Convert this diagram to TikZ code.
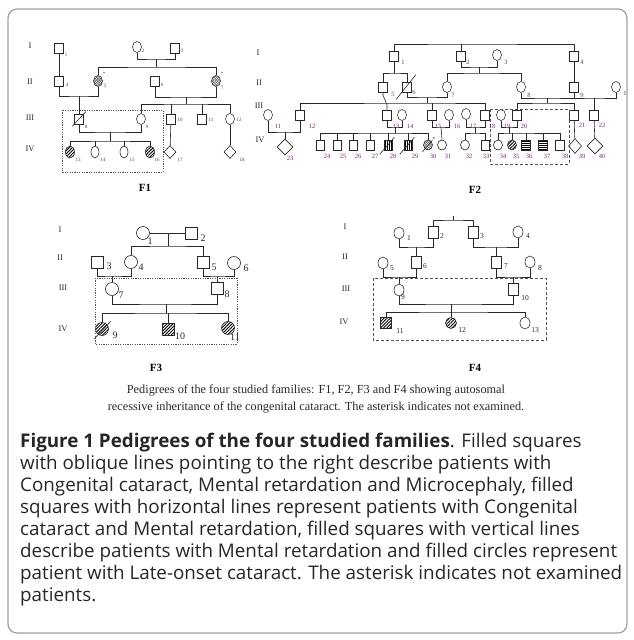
\documentclass[tikz,border=0pt]{standalone}
\usepackage{fontspec}
\setmainfont{Liberation Serif}
\newfontfamily\capfont{Open Sans}
\usetikzlibrary{shapes.geometric,patterns.meta,calc}
\definecolor{ink}{RGB}{40,40,40}
\definecolor{labp}{RGB}{110,45,110}
\definecolor{framec}{RGB}{160,160,160}
\begin{document}
\begin{tikzpicture}[x=1pt,y=-1pt,
  ln/.style={draw=ink,line width=0.6pt},
  sqs/.style 2 args={draw=ink,line width=0.6pt,rectangle,inner sep=0pt,minimum width=#1,minimum height=#2},
  ovs/.style 2 args={draw=ink,line width=0.6pt,ellipse,inner sep=0pt,minimum width=#1,minimum height=#2},
  dms/.style 2 args={draw=ink,line width=0.6pt,diamond,inner sep=0pt,minimum width=#1,minimum height=#2},
  dg/.style={pattern={Lines[angle=45,distance=2.2pt,line width=0.9pt]},pattern color=black},
  hz/.style={pattern={Lines[angle=0,distance=2pt,line width=1pt]},pattern color=black},
  vt/.style={pattern={Lines[angle=90,distance=2.2pt,line width=0.6pt]},pattern color=black},
  xh/.style={pattern={Hatch[angle=45,distance=1.8pt,line width=0.5pt]},pattern color=black!60},
  la/.style={inner sep=0pt,text=labp,font=\fontsize{5}{5}\selectfont},
  lb/.style={inner sep=0pt,text=labp,font=\fontsize{6.5}{6.5}\selectfont},
  lc/.style={inner sep=0pt,text=ink,font=\fontsize{10}{10}\selectfont},
  ld/.style={inner sep=0pt,text=ink,font=\fontsize{7.5}{7.5}\selectfont},
  gen/.style={inner sep=0pt,text=ink,font=\fontsize{8.5}{8.5}\selectfont},
  fl/.style={inner sep=0pt,text=black,font=\bfseries\fontsize{11}{11}\selectfont},
  scap/.style={inner sep=0pt,text=ink,font=\fontsize{12.3}{12.3}\selectfont},
  captx/.style={inner sep=0pt,anchor=base west,text=black!85,font=\capfont\fontsize{18.8}{18.8}\selectfont},
  boxdot/.style={draw=ink!80,line width=0.6pt,dash pattern=on 1.2pt off 1.2pt},
  boxdash/.style={draw=ink!80,line width=0.7pt,dash pattern=on 3pt off 2pt},
  dead/.style={draw=ink,line width=0.6pt}]
\useasboundingbox (0,0) rectangle (633,640);
\draw[framec,line width=1.2pt,rounded corners=9pt] (8,9) rectangle (627,633);

% ================= F1 =================
\node[gen] (f1g1) at (30,46) {I};
\node[gen] (f1g2) at (30,82) {II};
\node[gen] (f1g3) at (30,118) {III};
\node[gen] (f1g4) at (30,149) {IV};
\node[sqs={9}{10}] (f1n1) at (59,48) {};
\node[ovs={9}{11}] (f1n2) at (137,47) {};
\node[sqs={9}{10}] (f1n3) at (175,48) {};
\node[sqs={9}{10}] (f1n4) at (59,81) {};
\node[ovs={9}{11},xh] (f1n5) at (98,81) {};
\node[sqs={9}{10}] (f1n6) at (155,81) {};
\node[ovs={9}{11},xh] (f1n7) at (216,81) {};
\node[sqs={9}{10}] (f1n8) at (79,119) {};
\node[ovs={9}{11}] (f1n9) at (141,119) {};
\node[sqs={9}{10}] (f1n10) at (171,119) {};
\node[sqs={9}{10}] (f1n11) at (202,119) {};
\node[ovs={9}{11}] (f1n12) at (230,119) {};
\node[ovs={9}{12},dg] (f1n13) at (70,152) {};
\node[ovs={8}{12}] (f1n14) at (95,152) {};
\node[ovs={8}{12}] (f1n15) at (124,152) {};
\node[ovs={9}{12},dg] (f1n16) at (150,152) {};
\node[dms={12}{13}] (f1n17) at (170,152) {};
\node[dms={12}{13}] (f1n18) at (230,152) {};
\draw[dead] ($(f1n8.south west)+(-2,2)$) -- ($(f1n8.north east)+(2,-2)$);
\draw[ln] (f1n1) -- (f1n4);
\coordinate (f1c23) at (156,59);
\coordinate (f1s23) at (156,67);
\draw[ln] (f1n2.south) |- (f1c23) -| (f1n3.south);
\draw[ln] (f1c23) -- (f1s23);
\draw[ln] (f1n5.north) |- (f1s23) -| (f1n7.north);
\coordinate (f1c45) at (79,96);
\draw[ln] (f1n4.south) |- (f1c45) -| (f1n5.south);
\draw[ln] (f1c45) -- (f1n8.north);
\coordinate (f1c67) at (186,97);
\coordinate (f1s67) at (186,104);
\draw[ln] (f1n6.south) |- (f1c67) -| (f1n7.south);
\draw[ln] (f1c67) -- (f1s67);
\draw[ln] (f1n9.north) |- (f1s67) -| (f1n12.north);
\draw[ln] (f1n10.north) -- (f1n10.north |- f1s67);
\draw[ln] (f1n11.north) -- (f1n11.north |- f1s67);
\coordinate (f1c89) at (110,132);
\coordinate (f1s89) at (110,141);
\draw[ln] (f1n8.south) |- (f1c89) -| (f1n9.south);
\draw[ln] (f1c89) -- (f1s89);
\draw[ln] (f1n13.north) |- (f1s89) -| (f1n16.north);
\draw[ln] (f1n14.north) -- (f1n14.north |- f1s89);
\draw[ln] (f1n15.north) -- (f1n15.north |- f1s89);
\draw[ln] (f1n10) -- (f1n17);
\draw[ln] (f1n12) -- (f1n18);
\draw[boxdot] (62,110) rectangle (163,172);
\node[la] (f1l1) at (66,55) {1};
\node[la] (f1l2) at (143,51) {2};
\node[la] (f1l3) at (182,51) {3};
\node[la] (f1l4) at (67,85) {4};
\node[la] (f1l5) at (105,86) {5};
\node[la] (f1l6) at (162,85) {6};
\node[la] (f1l7) at (222,88) {7};
\node[la] (f1a5) at (104,74) {*};
\node[la] (f1a7) at (222,74) {*};
\node[la] (f1l8) at (86,127) {8};
\node[la] (f1l9) at (147,127) {9};
\node[la] (f1l10) at (180,120) {10};
\node[la] (f1l11) at (211,120) {11};
\node[la] (f1l12) at (239,120) {12};
\node[la] (f1l13) at (78,160) {13};
\node[la] (f1l14) at (103,160) {14};
\node[la] (f1l15) at (132,160) {15};
\node[la] (f1l16) at (157,160) {16};
\node[la] (f1l17) at (180,160) {17};
\node[la] (f1l18) at (242,160) {18};
\node[fl] (f1t) at (145,188) {F1};

% ================= F2 =================
\node[gen] (f2g1) at (258,53) {I};
\node[gen] (f2g2) at (259,83) {II};
\node[gen] (f2g3) at (259,106) {III};
\node[gen] (f2g4) at (260,140) {IV};
\node[sqs={9}{10}] (a1) at (394,56) {};
\node[sqs={9}{10}] (a2) at (461,56) {};
\node[ovs={9}{11}] (a3) at (497,55) {};
\node[sqs={9}{10}] (a4) at (574,56) {};
\node[sqs={9}{10}] (a5) at (383,87) {};
\node[sqs={9}{10}] (a6) at (407,87) {};
\node[ovs={9}{11}] (a7) at (447,87) {};
\node[ovs={9}{11}] (a8) at (521,87) {};
\node[sqs={9}{10}] (a9) at (574,87) {};
\node[ovs={9}{11}] (a10) at (616,87) {};
\node[ovs={9}{11}] (a11) at (268,115) {};
\node[sqs={9}{10}] (a12) at (300,115) {};
\node[sqs={9}{10}] (a13) at (387,115) {};
\node[ovs={9}{11}] (a14) at (402,115) {};
\node[sqs={9}{10}] (a15) at (432,115) {};
\node[ovs={9}{11}] (a16) at (449,115) {};
\node[ovs={9}{11}] (a17) at (466,114) {};
\node[sqs={9}{10}] (a18) at (485,115) {};
\node[ovs={9}{11}] (a19) at (501,115) {};
\node[sqs={9}{10}] (a20) at (517,115) {};
\node[sqs={9}{10}] (a21) at (574,115) {};
\node[sqs={9}{10}] (a22) at (594,115) {};
\node[dms={16}{16}] (a23) at (285,147) {};
\node[sqs={8}{10}] (a24) at (320,145) {};
\node[sqs={8}{10}] (a25) at (337,145) {};
\node[sqs={8}{10}] (a26) at (353,145) {};
\node[sqs={8}{10}] (a27) at (370,145) {};
\node[sqs={8}{10},vt] (a28) at (388,145) {};
\node[sqs={8}{10},vt] (a29) at (408,145) {};
\node[ovs={9}{10},xh] (a30) at (428,145) {};
\node[ovs={9}{10}] (a31) at (442,145) {};
\node[ovs={9}{10}] (a32) at (465,145) {};
\node[sqs={8}{10}] (a33) at (485,145) {};
\node[ovs={9}{10}] (a34) at (498,145) {};
\node[ovs={9}{10},dg] (a35) at (512,145) {};
\node[sqs={9}{10},hz] (a36) at (526,145) {};
\node[sqs={9}{10},hz] (a37) at (543,145) {};
\node[sqs={9}{10}] (a38) at (560,145) {};
\node[dms={13}{15}] (a39) at (575,146) {};
\node[dms={16}{16}] (a40) at (595,146) {};
\draw[dead] ($(a6.south west)+(-6,7)$) -- ($(a6.north east)+(4,-7)$);
\draw[dead] ($(a28.south west)+(-4,4)$) -- ($(a28.north east)+(1,-1)$);
\draw[dead] ($(a29.south west)+(-4,4)$) -- ($(a29.north east)+(1,-1)$);
\draw[dead] ($(a30.south west)+(-2,3)$) -- ($(a30.north east)+(1,-1)$);
\coordinate (f2top) at (461,44);
\draw[ln] (a1.north) |- (f2top) -| (a4.north);
\draw[ln] (a2.north) -- (a2.north |- f2top);
\coordinate (f2s1) at (394,73);
\draw[ln] (a1.south) -- (f2s1);
\draw[ln] (a5.north) |- (f2s1) -| (a6.north);
\coordinate (f2c23) at (479,67);
\coordinate (f2s23) at (479,73);
\draw[ln] (a2.south) |- (f2c23) -| (a3.south);
\draw[ln] (f2c23) -- (f2s23);
\draw[ln] (a7.north) |- (f2s23) -| (a8.north);
\draw[ln] (a4) -- (a9);
\coordinate (f2c67) at (427,97);
\coordinate (f2s67) at (427,103);
\draw[ln] (a6.south) |- (f2c67) -| (a7.south);
\draw[ln] (f2c67) -- (f2s67);
\draw[ln] (a12.north) |- (f2s67) -| (a18.north);
\draw[ln] (a15.north) -- (a15.north |- f2s67);
\coordinate (f2c89) at (547,98);
\coordinate (f2s89) at (547,103);
\coordinate (f2c910) at (594,98);
\draw[ln] (a8.south) |- (f2c89) -| (a9.south);
\draw[ln] (a9.south) |- (f2c910) -| (a10.south);
\draw[ln] (f2c89) -- (f2s89);
\draw[ln] (a20.north) |- (f2s89) -| (a21.north);
\draw[ln] (f2c910) -- (a22.north);
\draw[ln] (a5.south) -- ++(0,3) -- ($(a13.north)+(0,-5)$) -- (a13.north);
\coordinate (f2c1112) at (285,132);
\draw[ln] (a11.south) |- (f2c1112) -| (a12.south);
\draw[ln] (f2c1112) -- (a23.north);
\coordinate (f2c1314) at (395,127);
\coordinate (f2s1314) at (395,133);
\draw[ln] (a13.south) |- (f2c1314) -| (a14.south);
\draw[ln] (f2c1314) -- (f2s1314);
\draw[ln] (a24.north) |- (f2s1314) -| (a30.north);
\draw[ln] (a25.north) -- (a25.north |- f2s1314);
\draw[ln] (a26.north) -- (a26.north |- f2s1314);
\draw[ln] (a27.north) -- (a27.north |- f2s1314);
\draw[ln] (a28.north) -- (a28.north |- f2s1314);
\draw[ln] (a29.north) -- (a29.north |- f2s1314);
\coordinate (f2c1516) at (441,127);
\draw[ln] (a15.south) |- (f2c1516) -| (a16.south);
\draw[ln] (f2c1516) -- (a31.north);
\coordinate (f2c1718) at (475,127);
\coordinate (f2s1718) at (475,133);
\draw[ln] (a17.south) |- (f2c1718) -| (a18.south);
\draw[ln] (f2c1718) -- (f2s1718);
\draw[ln] (a32.north) |- (f2s1718) -| (a33.north);
\coordinate (f2c1920) at (509,127);
\coordinate (f2s1920) at (509,133);
\draw[ln] (a19.south) |- (f2c1920) -| (a20.south);
\draw[ln] (f2c1920) -- (f2s1920);
\draw[ln] (a34.north) |- (f2s1920) -| (a38.north);
\draw[ln] (a35.north) -- (a35.north |- f2s1920);
\draw[ln] (a36.north) -- (a36.north |- f2s1920);
\draw[ln] (a37.north) -- (a37.north |- f2s1920);
\draw[ln] (a21) -- (a39);
\draw[ln] (a22) -- (a40);
\draw[boxdash] (490,109) rectangle (569,164);
\node[lb] (a1l) at (403,62) {1};
\node[lb] (a2l) at (468,62) {2};
\node[lb] (a3l) at (506,62) {3};
\node[lb] (a4l) at (582,62) {4};
\node[lb] (a5l) at (393,94) {5};
\node[lb] (a6l) at (414,92) {6};
\node[lb] (a7l) at (453,95) {7};
\node[lb] (a8l) at (529,95) {8};
\node[lb] (a9l) at (582,95) {9};
\node[lb] (a10l) at (625,93) {1};
\node[lb] (a11l) at (278,126) {11};
\node[lb] (a12l) at (312,126) {12};
\node[lb] (a13l) at (396,126) {13};
\node[lb] (a14l) at (410,126) {14};
\node[lb] (a15l) at (438,126) {15};
\node[lb] (a16l) at (457,126) {16};
\node[lb] (a17l) at (473,126) {17};
\node[lb] (a18l) at (492,126) {18};
\node[lb] (a19l) at (507,126) {19};
\node[lb] (a20l) at (524,126) {20};
\node[lb] (a21l) at (582,125) {21};
\node[lb] (a22l) at (602,125) {22};
\node[lb] (a23l) at (290,158) {23};
\node[lb] (a24l) at (327,156) {24};
\node[lb] (a25l) at (343,156) {25};
\node[lb] (a26l) at (358,156) {26};
\node[lb] (a27l) at (375,156) {27};
\node[lb] (a28l) at (393,156) {28};
\node[lb] (a29l) at (415,156) {29};
\node[lb] (a30l) at (433,156) {30};
\node[lb] (a31l) at (448,156) {31};
\node[lb] (a32l) at (469,156) {32};
\node[lb] (a33l) at (486,156) {33};
\node[lb] (a34l) at (503,156) {34};
\node[lb] (a35l) at (516,156) {35};
\node[lb] (a36l) at (529,156) {36};
\node[lb] (a37l) at (547,156) {37};
\node[lb] (a38l) at (565,156) {38};
\node[lb] (a39l) at (582,156) {39};
\node[lb] (a40l) at (602,156) {40};
\node[lb] (a28s) at (394,139) {*};
\node[lb] (a29s) at (414,139) {*};
\node[lb] (a30s) at (434,139) {*};
\node[fl] (f2t) at (475,190) {F2};

% ================= F3 =================
\node[gen] (f3g1) at (60,230) {I};
\node[gen] (f3g2) at (60,258) {II};
\node[gen] (f3g3) at (63,288) {III};
\node[gen] (f3g4) at (63,329) {IV};
\node[ovs={13}{13}] (b1) at (143,233) {};
\node[sqs={12}{12}] (b2) at (191,233) {};
\node[sqs={12}{12}] (b3) at (97,262) {};
\node[ovs={13}{13}] (b4) at (131,262) {};
\node[sqs={12}{12}] (b5) at (203,262) {};
\node[ovs={13}{13}] (b6) at (234,263) {};
\node[ovs={13}{13}] (b7) at (112,289) {};
\node[sqs={12}{12}] (b8) at (217,288) {};
\node[ovs={13}{13},dg] (b9) at (102,329) {};
\node[sqs={12}{12},dg] (b10) at (168,329) {};
\node[ovs={13}{13},dg] (b11) at (228,328) {};
\draw[dead] ($(b9.south west)+(-3,5)$) -- ($(b9.north east)+(4,-3)$);
\draw[ln] (b1) -- (b2);
\coordinate (f3c12) at (168,233);
\coordinate (f3s12) at (168,246);
\draw[ln] (f3c12) -- (f3s12);
\draw[ln] (b4.north) |- (f3s12) -| (b5.north);
\coordinate (f3c34) at (112,276);
\draw[ln] (b3.south) |- (f3c34) -| (b4.south);
\draw[ln] (f3c34) -- (b7.north);
\coordinate (f3c56) at (217,276);
\draw[ln] (b5.south) |- (f3c56) -| (b6.south);
\draw[ln] (f3c56) -- (b8.north);
\coordinate (f3c78) at (166,304);
\coordinate (f3s78) at (166,313);
\draw[ln] (b7.south) |- (f3c78) -| (b8.south);
\draw[ln] (f3c78) -- (f3s78);
\draw[ln] (b9.north) |- (f3s78) -| (b11.north);
\draw[ln] (b10.north) -- (b10.north |- f3s78);
\draw[boxdot] (95,278) rectangle (237,344);
\node[lc] (b1l) at (150,241) {1};
\node[lc] (b2l) at (203,238) {2};
\node[lc] (b3l) at (109,266) {3};
\node[lc] (b4l) at (141,267) {4};
\node[lc] (b5l) at (214,267) {5};
\node[lc] (b6l) at (246,268) {6};
\node[lc] (b7l) at (121,295) {7};
\node[lc] (b8l) at (227,294) {8};
\node[lc] (b9l) at (115,335) {9};
\node[lc] (b10l) at (180,336) {10};
\node[lc] (b11l) at (235,337) {11};
\node[fl] (f3t) at (156,368) {F3};

% ================= F4 =================
\node[gen] (f4g1) at (345,227) {I};
\node[gen] (f4g2) at (345,257) {II};
\node[gen] (f4g3) at (346,289) {III};
\node[gen] (f4g4) at (344,322) {IV};
\node[ovs={10}{12}] (c1) at (399,233) {};
\node[sqs={10}{12}] (c2) at (433,232) {};
\node[sqs={10}{12}] (c3) at (473,232) {};
\node[ovs={10}{12}] (c4) at (518,232) {};
\node[ovs={10}{12}] (c5) at (383,263) {};
\node[sqs={10}{12}] (c6) at (416,262) {};
\node[sqs={10}{12}] (c7) at (496,262) {};
\node[ovs={10}{12}] (c8) at (530,262) {};
\node[ovs={10}{12}] (c9) at (399,290) {};
\node[sqs={10}{12}] (c10) at (513,289) {};
\node[sqs={11}{11},dg] (c11) at (386,323) {};
\node[ovs={11}{11},dg] (c12) at (451,323) {};
\node[ovs={10}{12}] (c13) at (525,323) {};
\coordinate (f4top) at (453,220);
\draw[ln] (c2.north) |- (f4top) -| (c3.north);
\draw[ln] (f4top) -- ++(0,-4);
\coordinate (f4c12) at (416,247);
\draw[ln] (c1.south) |- (f4c12) -| (c2.south);
\draw[ln] (f4c12) -- (c6.north);
\coordinate (f4c34) at (496,247);
\draw[ln] (c3.south) |- (f4c34) -| (c4.south);
\draw[ln] (f4c34) -- (c7.north);
\coordinate (f4c56) at (399,277);
\draw[ln] (c5.south) |- (f4c56) -| (c6.south);
\draw[ln] (f4c56) -- (c9.north);
\coordinate (f4c78) at (513,277);
\draw[ln] (c7.south) |- (f4c78) -| (c8.south);
\draw[ln] (f4c78) -- (c10.north);
\coordinate (f4c910) at (451,304);
\coordinate (f4s910) at (451,312);
\draw[ln] (c9.south) |- (f4c910) -| (c10.south);
\draw[ln] (f4c910) -- (f4s910);
\draw[ln] (c11.north) |- (f4s910) -| (c13.north);
\draw[ln] (c12.north) -- (c12.north |- f4s910);
\draw[boxdash] (373,278) rectangle (546,340);
\node[ld] (c1l) at (409,238) {1};
\node[ld] (c2l) at (442,236) {2};
\node[ld] (c3l) at (482,236) {3};
\node[ld] (c4l) at (528,236) {4};
\node[ld] (c5l) at (392,268) {5};
\node[ld] (c6l) at (425,266) {6};
\node[ld] (c7l) at (506,266) {7};
\node[ld] (c8l) at (540,268) {8};
\node[ld] (c9l) at (403,297) {9};
\node[ld] (c10l) at (525,298) {10};
\node[ld] (c11l) at (400,331) {11};
\node[ld] (c12l) at (462,330) {12};
\node[ld] (c13l) at (535,330) {13};
\node[fl] (f4t) at (475,368) {F4};

% ================= captions =================
\node[scap] (sc1) at (316,390) {Pedigrees of the four studied families: F1, F2, F3 and F4 showing autosomal};
\node[scap] (sc2) at (316,407) {recessive inheritance of the congenital cataract. The asterisk indicates not examined.};
\node[captx] (cl1) at (20,447) {\textbf{Figure 1 Pedigrees of the four studied families}. Filled squares};
\node[captx] (cl2) at (20,469.1) {with oblique lines pointing to the right describe patients with};
\node[captx] (cl3) at (20,491.2) {Congenital cataract, Mental retardation and Microcephaly, filled};
\node[captx] (cl4) at (20,513.3) {squares with horizontal lines represent patients with Congenital};
\node[captx] (cl5) at (20,535.4) {cataract and Mental retardation, filled squares with vertical lines};
\node[captx] (cl6) at (20,557.5) {describe patients with Mental retardation and filled circles represent};
\node[captx] (cl7) at (20,579.6) {patient with Late-onset cataract. The asterisk indicates not examined};
\node[captx] (cl8) at (20,601.7) {patients.};
\end{tikzpicture}
\end{document}
